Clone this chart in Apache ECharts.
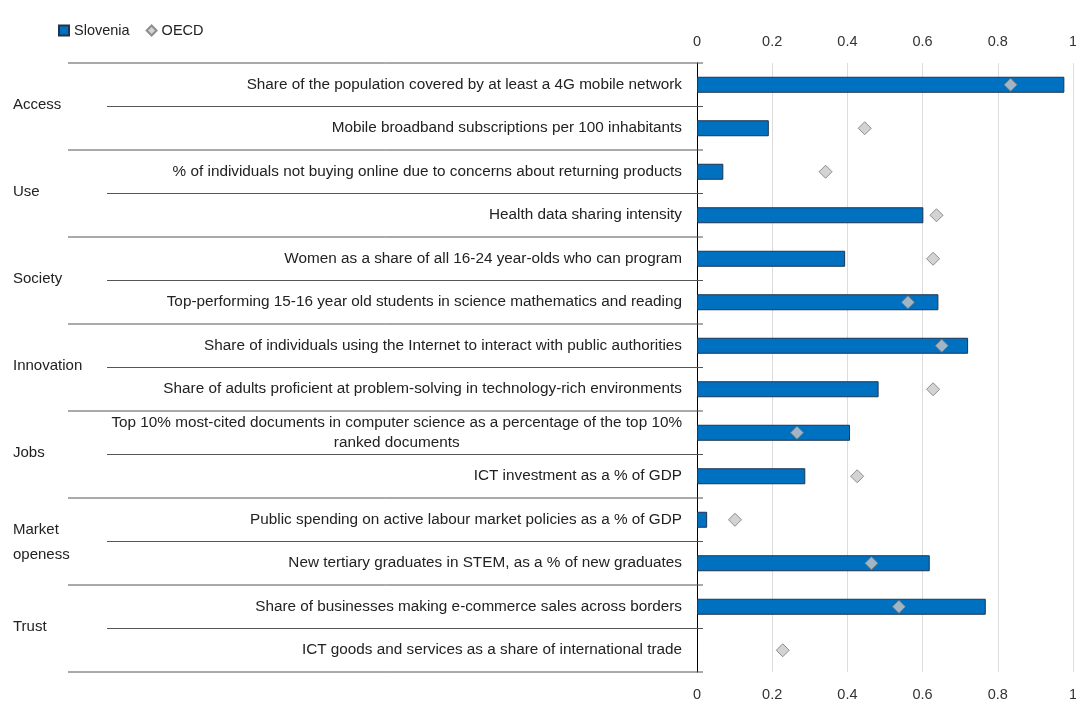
<!DOCTYPE html>
<html>
<head>
<meta charset="utf-8">
<script src="https://cdn.jsdelivr.net/npm/echarts@6/dist/echarts.min.js"></script>
<style>
  html, body { margin: 0; padding: 0; background: #fff; }
  #chart { width: 1076px; height: 701px; }
</style>
</head>
<body>
<div id="chart"></div>
<script>
// ---------------------------------------------------------------------------
// Data
// ---------------------------------------------------------------------------

const categories = [
  'Share of the population covered by at least a 4G mobile network',
  'Mobile broadband subscriptions per 100 inhabitants',
  '% of individuals not buying online due to concerns about returning products',
  'Health data sharing intensity',
  'Women as a share of all 16-24 year-olds who can program',
  'Top-performing 15-16 year old students in science mathematics and reading',
  'Share of individuals using the Internet to interact with public authorities',
  'Share of adults proficient at problem-solving in technology-rich environments',
  'Top 10% most-cited documents in computer science as a percentage of the top 10%\nranked documents',
  'ICT investment as a % of GDP',
  'Public spending on active labour market policies as a % of GDP',
  'New tertiary graduates in STEM, as a % of new graduates',
  'Share of businesses making e-commerce sales across borders',
  'ICT goods and services as a share of international trade',
]

// dimension each row belongs to (two rows per dimension)
const groups = [
  'Access', 'Access',
  'Use', 'Use',
  'Society', 'Society',
  'Innovation', 'Innovation',
  'Jobs', 'Jobs',
  'Market\nopeness', 'Market\nopeness',
  'Trust', 'Trust',
]

const slovenia = [0.977, 0.191, 0.070, 0.602, 0.394, 0.642, 0.721, 0.483, 0.407, 0.288, 0.027, 0.619, 0.768, null]
const oecd     = [0.834, 0.446, 0.342, 0.637, 0.628, 0.561, 0.651, 0.628, 0.266, 0.426, 0.101, 0.464, 0.537, 0.228]

const xTicks = [0, 0.2, 0.4, 0.6, 0.8, 1]

// ---------------------------------------------------------------------------
// Chart
// ---------------------------------------------------------------------------

const FONT = 'Liberation Sans, Arial, sans-serif'
const TEXT = '#222'
const LABEL_SIZE = 15.3

const chart = echarts.init(document.getElementById('chart'), null, { renderer: 'canvas' })

/** Row separators + dimension labels, placed through the category axis. */
function renderRows(params, api) {
  const i = api.value(1)
  const [x0, yc] = api.coord([0, i])
  const h = api.size([0, 1])[1]
  const top = yc - h / 2
  const isStart = i === 0 || groups[i] !== groups[i - 1]
  const lineStyle = { stroke: '#555', lineWidth: 1 }

  const children = [{
    type: 'line',
    shape: { x1: isStart ? 68 : 107, y1: top, x2: x0 + 6, y2: top },
    style: lineStyle,
  }]

  if (i === categories.length - 1) {
    children.push({
      type: 'line',
      shape: { x1: 68, y1: top + h, x2: x0 + 6, y2: top + h },
      style: lineStyle,
    })
  }

  if (isStart) {
    const multi = groups[i].includes('\n')
    children.push({
      type: 'text',
      style: {
        text: groups[i],
        x: 13,
        y: top + h + (multi ? 1 : -2),
        verticalAlign: 'middle',
        align: 'left',
        fill: TEXT,
        font: '15px ' + FONT,
        lineHeight: 25,
      },
    })
  }
  return { type: 'group', children }
}

const xAxisBase = {
  type: 'value',
  min: xTicks[0],
  max: xTicks[xTicks.length - 1],
  interval: 0.2,
  axisLine: { show: false },
  axisTick: { show: false },
  axisLabel: {
    color: '#333',
    fontFamily: FONT,
    fontSize: 14.5,
    formatter: (v) => String(Math.round(v * 10) / 10),
  },
}

chart.setOption({
  animation: false,
  textStyle: { fontFamily: FONT },
  legend: {
    left: 53,
    top: 18,
    itemWidth: 10,
    itemHeight: 10,
    itemGap: 16,
    textStyle: { fontSize: 14.5, color: TEXT },
    data: [
      { name: 'Slovenia', icon: 'rect' },
      { name: 'OECD', icon: 'diamond' },
    ],
  },
  grid: { left: 697, right: 3, top: 63, bottom: 29, containLabel: false, outerBoundsMode: 'none' },
  xAxis: [
    {
      ...xAxisBase,
      position: 'top',
      axisLabel: { ...xAxisBase.axisLabel, margin: 14 },
      splitLine: { show: true, lineStyle: { color: '#dcdcdc', width: 1 } },
    },
    {
      ...xAxisBase,
      position: 'bottom',
      axisLabel: { ...xAxisBase.axisLabel, margin: 15 },
      splitLine: { show: false },
    },
  ],
  yAxis: {
    type: 'category',
    inverse: true,
    data: categories,
    axisLine: { show: true, onZero: false, lineStyle: { color: '#000', width: 1 } },
    axisTick: { show: false },
    axisLabel: {
      margin: 15,
      color: TEXT,
      fontSize: LABEL_SIZE,
      align: 'right',
      lineHeight: 20,
      formatter: (v) => {
        const parts = v.split('\n')
        if (parts.length === 1) return v
        return '{a|' + parts[0] + '}\n{b|' + parts[1] + '}'
      },
      rich: {
        a: { fontSize: LABEL_SIZE, color: TEXT, lineHeight: 20 },
        b: { fontSize: LABEL_SIZE, color: TEXT, lineHeight: 20, align: 'center' },
      },
    },
  },
  series: [
    {
      name: 'Slovenia',
      type: 'bar',
      data: slovenia,
      barWidth: 16,
      itemStyle: { color: '#0070C0', borderColor: '#1d3550', borderWidth: 1 },
      z: 2,
    },
    {
      name: 'OECD',
      type: 'scatter',
      data: oecd,
      symbol: 'diamond',
      symbolSize: 13,
      itemStyle: { color: '#c8c8c8', borderColor: '#777', borderWidth: 1 },
      z: 3,
    },
    {
      name: 'rows',
      type: 'custom',
      data: categories.map((c, i) => [0, i]),
      encode: { x: 0, y: 1 },
      renderItem: renderRows,
      clip: false,
      silent: true,
      z: 1,
    },
  ],
})
</script>
</body>
</html>
